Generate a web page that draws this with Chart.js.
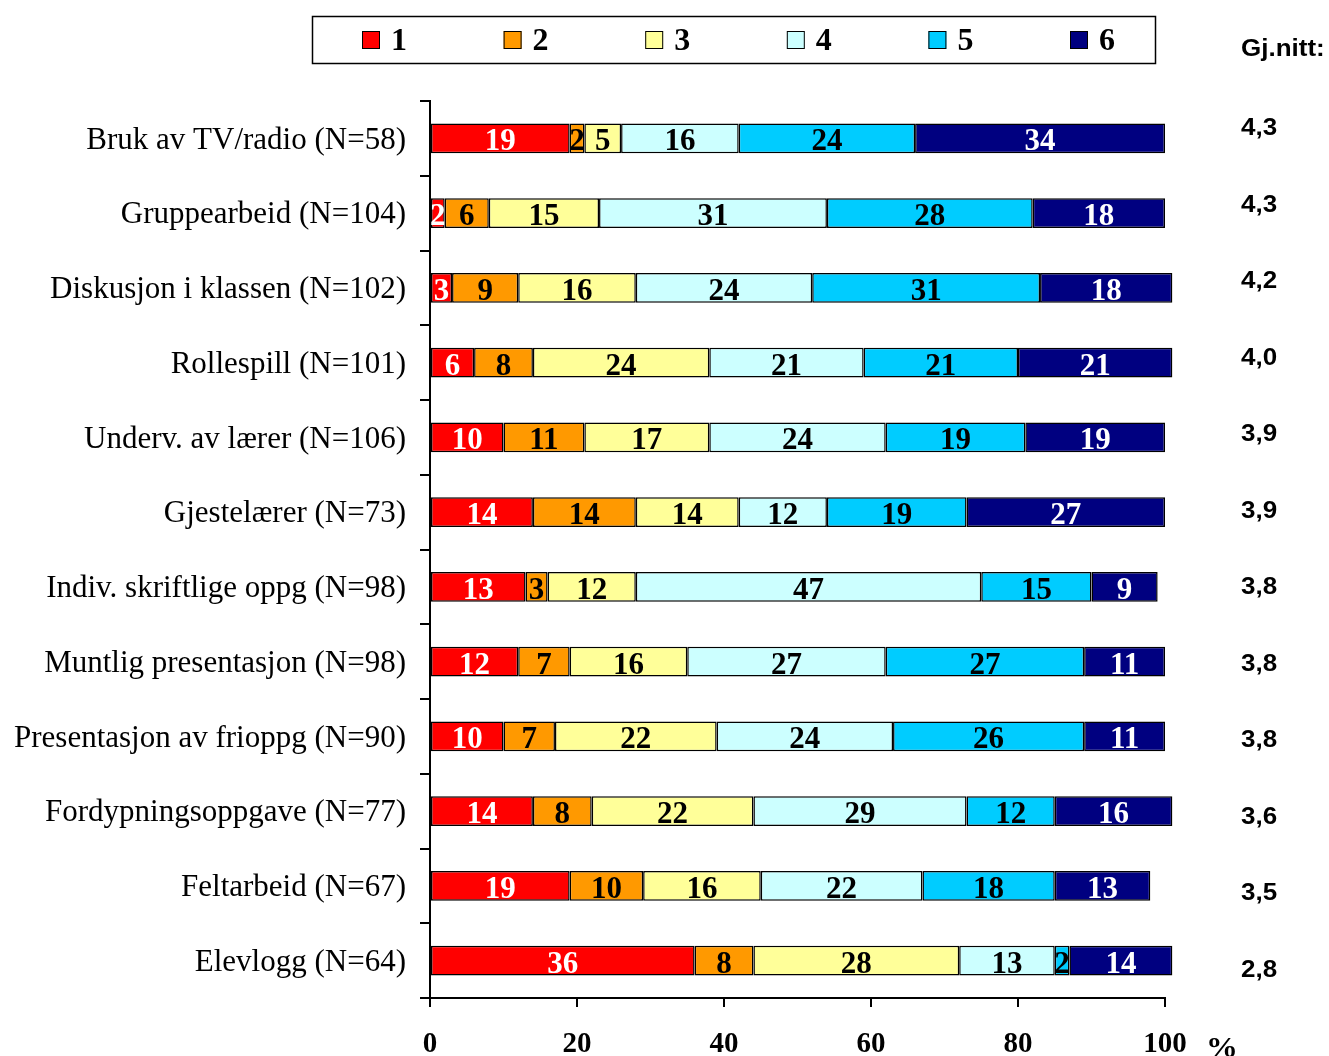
<!DOCTYPE html>
<html>
<head>
<meta charset="utf-8">
<title>Undervisningsformer</title>
<script src="https://cdn.jsdelivr.net/npm/chart.js@4.4.1/dist/chart.umd.min.js"></script>
<style>
  html, body { margin: 0; padding: 0; background: #fff; }
  #wrap { width: 1329px; height: 1056px; position: relative; }
</style>
</head>
<body>
<div id="wrap"><canvas id="chartForms"></canvas></div>
<script>
'use strict';

var categories = [
  'Bruk av TV/radio (N=58)',
  'Gruppearbeid (N=104)',
  'Diskusjon i klassen (N=102)',
  'Rollespill (N=101)',
  'Underv. av lærer (N=106)',
  'Gjestelærer (N=73)',
  'Indiv. skriftlige oppg (N=98)',
  'Muntlig presentasjon (N=98)',
  'Presentasjon av frioppg (N=90)',
  'Fordypningsoppgave (N=77)',
  'Feltarbeid (N=67)',
  'Elevlogg (N=64)'
];
var seriesNames = ['1', '2', '3', '4', '5', '6'];
var score1 = [19, 2, 3, 6, 10, 14, 13, 12, 10, 14, 19, 36];
var score2 = [2, 6, 9, 8, 11, 14, 3, 7, 7, 8, 10, 8];
var score3 = [5, 15, 16, 24, 17, 14, 12, 16, 22, 22, 16, 28];
var score4 = [16, 31, 24, 21, 24, 12, 47, 27, 24, 29, 22, 13];
var score5 = [24, 28, 31, 21, 19, 19, 15, 27, 26, 12, 18, 2];
var score6 = [34, 18, 18, 21, 19, 27, 9, 11, 11, 16, 13, 14];
var averages = [4.3, 4.3, 4.2, 4.0, 3.9, 3.9, 3.8, 3.8, 3.8, 3.6, 3.5, 2.8];
var xTicks = [0, 20, 40, 60, 80, 100];

var fills = ['#ff0000', '#ff9900', '#ffff99', '#ccffff', '#00ccff', '#000080'];
var labelInk = ['#ffffff', '#000000', '#000000', '#000000', '#000000', '#ffffff'];
var SERIF = '"Liberation Serif", "Times New Roman", serif';
var SANS = '"Liberation Sans", Arial, sans-serif';

function stretchText(ctx, text, x, y, sx, align) {
  ctx.save();
  ctx.translate(x, y);
  ctx.scale(sx, 1);
  ctx.textAlign = align;
  ctx.fillText(text, 0, 0);
  ctx.restore();
}

var overlay = {
  id: 'overlay',
  afterDatasetsDraw: function (chart) {
    var ctx = chart.ctx;
    ctx.save();
    ctx.font = 'bold 31px ' + SERIF;
    ctx.textAlign = 'center';
    ctx.textBaseline = 'middle';
    chart.data.datasets.forEach(function (ds, di) {
      var meta = chart.getDatasetMeta(di);
      meta.data.forEach(function (bar, i) {
        ctx.fillStyle = labelInk[di];
        ctx.fillText(String(ds.data[i]), (bar.x + bar.base) / 2, bar.y + 4);
      });
    });
    ctx.restore();
  },
  afterDraw: function (chart) {
    var ctx = chart.ctx;
    ctx.save();

    // legend box
    ctx.strokeStyle = '#000';
    ctx.lineWidth = 1.5;
    ctx.strokeRect(312.5, 16.5, 843, 47);
    ctx.font = 'bold 32px ' + SERIF;
    ctx.textBaseline = 'middle';
    chart.data.datasets.forEach(function (ds, di) {
      var lx = 362 + di * 141.6;
      ctx.fillStyle = fills[di];
      ctx.fillRect(lx, 31, 18, 18);
      ctx.lineWidth = 1;
      ctx.strokeRect(lx + 0.5, 31.5, 17, 17);
      ctx.fillStyle = '#000';
      ctx.textAlign = 'left';
      ctx.fillText(ds.label, lx + 29, 42);
    });

    // average column
    ctx.fillStyle = '#000';
    ctx.font = 'bold 23px ' + SANS;
    ctx.textBaseline = 'middle';
    stretchText(ctx, 'Gj.nitt:', 1241, 50, 1.13, 'left');
    averages.forEach(function (v, i) {
      stretchText(ctx, v.toFixed(1).replace('.', ','), 1241, 129 + i * 76.5, 1.13, 'left');
    });

    // unit
    ctx.font = 'bold 29px ' + SERIF;
    stretchText(ctx, '%', 1206, 1050, 1.1, 'left');
    ctx.restore();
  }
};

new Chart(document.getElementById('chartForms').getContext('2d'), {
  type: 'bar',
  data: {
    labels: categories,
    datasets: [score1, score2, score3, score4, score5, score6].map(function (vals, di) {
      return {
        label: seriesNames[di],
        data: vals,
        backgroundColor: fills[di],
        borderColor: '#000',
        borderWidth: 1.5,
        borderSkipped: false,
        barPercentage: 0.4,
        categoryPercentage: 1,
        clip: false
      };
    })
  },
  options: {
    indexAxis: 'y',
    animation: false,
    responsive: true,
    maintainAspectRatio: false,
    layout: { padding: { top: 101, right: 164, left: 0, bottom: 0 } },
    scales: {
      x: {
        stacked: true,
        min: 0,
        max: 100,
        afterBuildTicks: function (scale) {
          scale.ticks = xTicks.map(function (v) { return { value: v }; });
        },
        afterFit: function (scale) { scale.height = 58; },
        grid: { drawOnChartArea: false, tickLength: 9, color: '#000', lineWidth: 2 },
        border: { color: '#000', width: 2 },
        ticks: {
          color: '#000',
          padding: 20,
          font: { family: SERIF, size: 29, weight: 'bold' }
        }
      },
      y: {
        stacked: true,
        afterFit: function (scale) { scale.width = 430; },
        grid: { drawOnChartArea: false, offset: true, tickLength: 10, color: '#000', lineWidth: 2 },
        border: { color: '#000', width: 2 },
        ticks: {
          color: '#000',
          padding: 14,
          labelOffset: 2,
          font: { family: SERIF, size: 31 }
        }
      }
    },
    plugins: {
      legend: { display: false },
      tooltip: { enabled: false }
    }
  },
  plugins: [overlay]
});
</script>
</body>
</html>
